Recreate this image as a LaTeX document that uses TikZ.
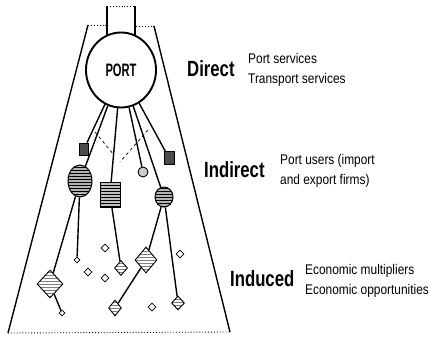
\documentclass[tikz,border=0pt]{standalone}
\usepackage{fontspec}
\setmainfont{Liberation Sans}
\newfontfamily\levelfont[FakeStretch=0.76]{Liberation Sans}
\newfontfamily\portfont[FakeStretch=0.62]{Liberation Sans}
\newfontfamily\notefont[FakeStretch=0.85]{Liberation Sans}
\usepackage{tikz}
\usetikzlibrary{positioning,arrows.meta,shapes.geometric,patterns}
\tikzset{
  link/.style={line width=1.4pt},
  coneline/.style={line width=1.4pt},
  openedge/.style={line width=0.9pt, dotted},
  portnode/.style={draw, ellipse, line width=1.9pt, fill=white, minimum width=70pt, minimum height=75pt, inner sep=0pt, font=\portfont\bfseries\fontsize{18}{20}\selectfont},
  firmbox/.style={draw, line width=0.9pt, fill=black!70, minimum width=9pt, minimum height=12pt, inner sep=0pt},
  userbox/.style={draw, line width=1pt, preaction={fill=black!25}, pattern=horizontal lines, minimum width=20pt, minimum height=24pt, inner sep=0pt},
  userblob/.style={draw, ellipse, line width=1pt, preaction={fill=black!30}, pattern=horizontal lines, inner sep=0pt},
  effectdiam/.style={draw, diamond, line width=0.9pt, pattern=horizontal lines, pattern color=black!50, inner sep=0pt},
  seeddiam/.style={draw, diamond, line width=0.8pt, minimum size=8pt, inner sep=0pt},
  level/.style={font=\levelfont\bfseries\fontsize{22}{24}\selectfont, anchor=west, inner sep=0pt},
  effect/.style={font=\notefont\fontsize{14}{20}\selectfont, align=left, anchor=north west, inner sep=0pt}
}

\begin{document}
\begin{tikzpicture}[x=1pt, y=-1pt]
  \useasboundingbox (0,0) rectangle (428,339);
  % cone and stack
  \coordinate (tl) at (88,25);
  \coordinate (tr) at (154,26);
  \coordinate (bl) at (8,333);
  \coordinate (br) at (230,332);
  \draw[coneline] (tl) -- (bl);
  \draw[coneline] (tr) -- (br);
  \draw[openedge] (tl) -- (106,25);
  \draw[openedge] (136,26) -- (tr);
  \draw[openedge] (bl) -- (br);
  \draw[coneline] (107,36) -- (107,6);
  \draw[coneline] (135,36) -- (135,6);
  \draw[openedge] (107,6) -- (135,6);

  % direct
  \node[portnode] (port) at (121,70) {PORT};

  % indirect
  \node[firmbox] (s1) at (84,149) {};
  \node[firmbox, minimum width=10pt, minimum height=13pt] (s2) at (169,158) {};
  \node[userblob, minimum width=24pt, minimum height=32pt] (e1) at (80,181) {};
  \node[userbox] (r1) at (110,195) {};
  \node[draw, circle, line width=0.9pt, fill=black!20, minimum size=10pt, inner sep=0pt] (c1) at (143,172) {};
  \node[userblob, minimum width=18pt, minimum height=20pt] (e2) at (164,197) {};

  % induced
  \node[effectdiam, minimum width=26pt, minimum height=28pt] (d1) at (50,284) {};
  \node[effectdiam, minimum width=13pt, minimum height=15pt] (d2) at (121,268) {};
  \node[effectdiam, minimum width=22pt, minimum height=26pt] (d3) at (146,260) {};
  \node[effectdiam, minimum width=13pt, minimum height=14pt] (d4) at (178,303) {};
  \node[effectdiam, minimum width=13pt, minimum height=16pt] (d5) at (115,308) {};
  \node[seeddiam, minimum size=6pt] (t1) at (77,260) {};
  \node[seeddiam, minimum size=6pt] (t2) at (62,313) {};
  \node[seeddiam] (f1) at (105,248) {};
  \node[seeddiam] (f2) at (88,272) {};
  \node[seeddiam] (f3) at (105,278) {};
  \node[seeddiam] (f4) at (180,254) {};
  \node[seeddiam] (f5) at (152,307) {};

  \draw[link] (port) -- (s1);
  \draw[link] (port) -- (e1);
  \draw[link] (port) -- (r1);
  \draw[link] (port) -- (c1);
  \draw[link] (port) -- (e2);
  \draw[link] (port) -- (s2);
  \draw[link] (e1) -- (d1);
  \draw[link] (e1) -- (t1);
  \draw[link] (d1) -- (t2);
  \draw[link] (r1) -- (d2);
  \draw[link] (e2) -- (d3);
  \draw[link] (e2) -- (d4);
  \draw[link] (d3) -- (d5);

  % links between users
  \coordinate (ua) at (95,132);
  \coordinate (ub) at (114,155);
  \coordinate (uc) at (148,130);
  \coordinate (ud) at (120,162);
  \draw[dashed, line width=0.7pt] (ua) -- (ub);
  \draw[dashed, line width=0.7pt] (uc) -- (ud);

  % labels
  \node[level] (direct) at (187,69) {Direct};
  \node[effect] (directtxt) at (248,53) {Port services\\Transport services};
  \node[level] (indirect) at (204,170) {Indirect};
  \node[effect] (indirecttxt) at (280,154) {Port users (import\\and export firms)};
  \node[level] (induced) at (230,279) {Induced};
  \node[effect] (inducedtxt) at (305,264) {Economic multipliers\\Economic opportunities};
\end{tikzpicture}
\end{document}
